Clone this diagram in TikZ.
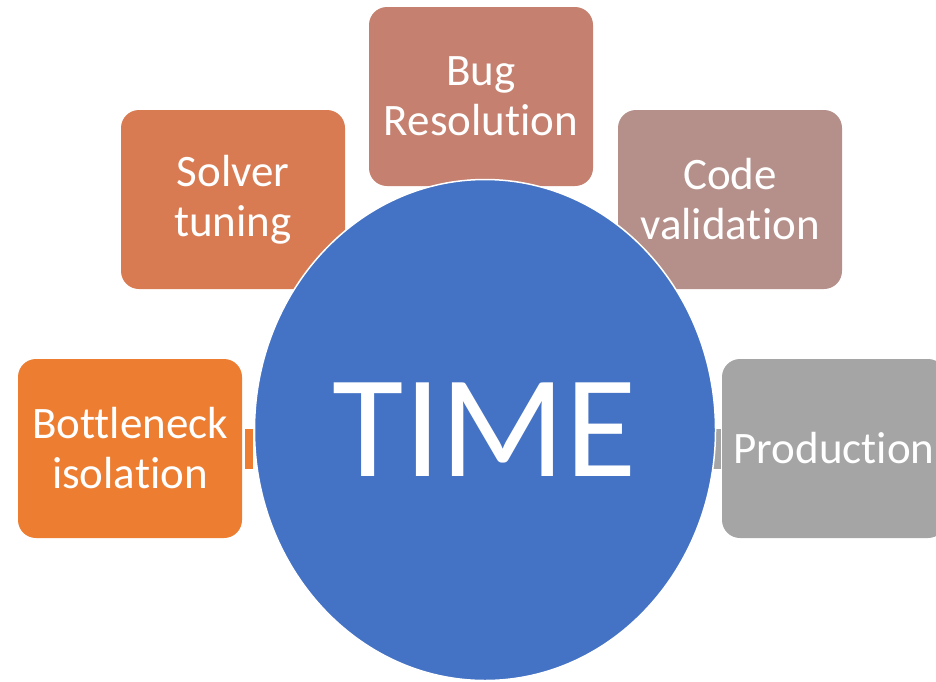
\documentclass[tikz,border=0pt]{standalone}
\usepackage{fontspec}
\setmainfont[Ligatures={NoCommon,NoContextual,NoRequired},RawFeature={-clig;-calt;-dlig}]{Carlito}
\usetikzlibrary{shapes.geometric}
\definecolor{cBlue}{HTML}{4472C4}
\definecolor{cOrange}{HTML}{ED7D31}
\definecolor{cSolver}{HTML}{D87B52}
\definecolor{cBug}{HTML}{C5806F}
\definecolor{cCode}{HTML}{B5908A}
\definecolor{cGray}{HTML}{A5A5A5}
\tikzset{
  taskbox/.style={rounded corners=18pt, minimum width=224pt, minimum height=179pt,
    inner sep=0pt, align=center, text=white,
    font=\fontsize{45}{50}\selectfont},
  linkbar/.style={line width=40pt}
}
\begin{document}
\begin{tikzpicture}[x=1pt,y=-1pt]
  \useasboundingbox (0,0) rectangle (936,681);
  \begin{scope}
    \clip (0,0) rectangle (936,681);
    % surrounding activities
    \node[taskbox, fill=cOrange] (bn)   at (130,448.5) {Bottleneck\\isolation};
    \node[taskbox, fill=cSolver] (st)   at (233,199.5) {Solver\\tuning};
    \node[taskbox, fill=cBug]    (br)   at (481,96.5)  {Bug\\Resolution};
    \node[taskbox, fill=cCode]   (cv)   at (730,199.5) {Code\\validation};
    \node[taskbox, fill=cGray]   (prod) at (834,448.5) {Production};
    % central ellipse
    \coordinate (tw) at (255,448.5);
    \coordinate (te) at (712,448.5);
    \draw[linkbar, cOrange, shorten <=3pt, shorten >=2pt] (bn.east) -- (tw);
    \draw[linkbar, cGray, shorten >=1pt] (te) -- (prod.west);
    \node[ellipse, fill=cBlue, draw=white, line width=1.5pt, inner sep=0pt,
      minimum width=461pt, minimum height=501pt, text=white,
      font=\fontsize{146}{150}\selectfont] (time) at (485,430) {TIME};
  \end{scope}
\end{tikzpicture}
\end{document}
